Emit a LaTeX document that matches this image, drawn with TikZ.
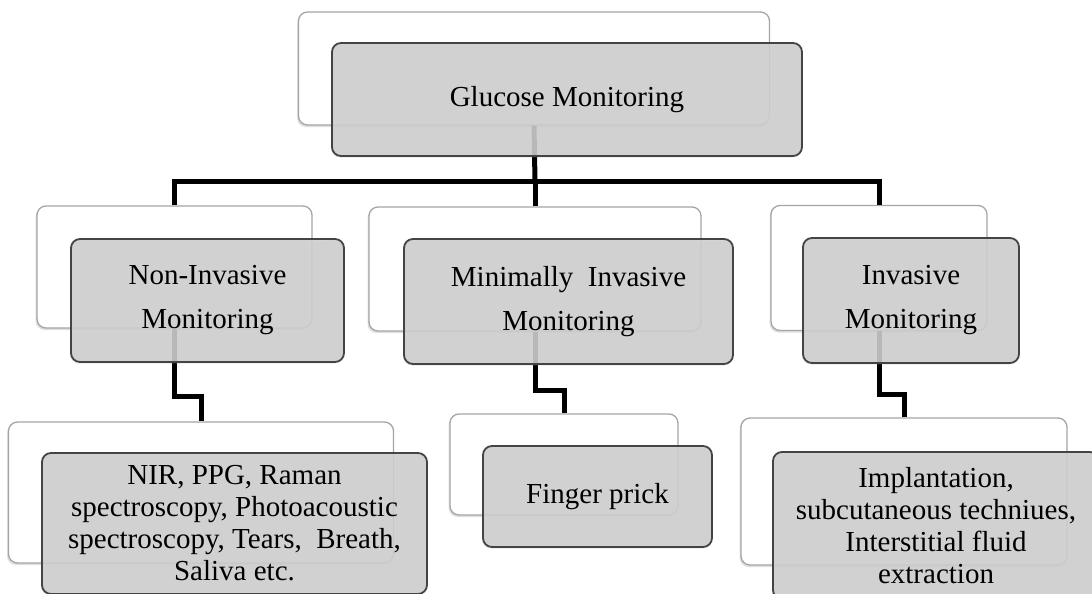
\documentclass[tikz,border=0pt]{standalone}
\usepackage{fontspec}
\setmainfont{Liberation Serif}
\usetikzlibrary{shadows}

\definecolor{boxgray}{RGB}{207,207,207}
\definecolor{edgedark}{RGB}{68,68,68}
\definecolor{edgelight}{RGB}{165,165,165}

\begin{document}
\begin{tikzpicture}[
                x = 1pt,
                y = -1pt,
                back/.style = {
                    draw = edgelight,
                    fill = white,
                    line width = 1.3pt,
                    rounded corners = 9pt,
                    inner sep = 0pt,
                    drop shadow = {shadow xshift=-1.5pt, shadow yshift=-2pt, opacity=0.25}
                },
                front/.style = {
                    draw = edgedark,
                    fill = boxgray,
                    fill opacity = 0.88,
                    text opacity = 1,
                    line width = 1.8pt,
                    rounded corners = 9pt,
                    inner sep = 0pt,
                    align = center,
                    font = \fontsize{29}{44}\selectfont,
                    drop shadow = {shadow xshift=-1pt, shadow yshift=-1.5pt, opacity=0.2}
                },
                leaf/.style = {
                    front,
                    font = \fontsize{29}{32}\selectfont
                },
                link/.style = {
                    line width = 5pt,
                    black
                }
            ]
            \useasboundingbox (0,0) rectangle (1092,594);
            \clip (0,0) rectangle (1092,594);
            % 
            \node[back, minimum width=471pt, minimum height=113pt] (b1) at (534,68.5) {};
            % 
            \node[back, minimum width=275pt, minimum height=122pt] (b2) at (174.5,267) {};
            \node[back, minimum width=332pt, minimum height=124pt] (b3) at (535,269) {};
            \node[back, minimum width=216pt, minimum height=125pt] (b4) at (879,268) {};
            % 
            \node[back, minimum width=385pt, minimum height=141pt] (b5) at (201,492.5) {};
            \node[back, minimum width=228pt, minimum height=101pt] (b6) at (564,464.5) {};
            \node[back, minimum width=326pt, minimum height=147pt] (b7) at (904,491.5) {};
            % 
            \coordinate (t1) at (535,181);
            \coordinate (e2) at (0,396);
            \coordinate (e3) at (0,390);
            \coordinate (e4) at (0,394);
            % 
            \draw[link] (b1.south) -- (t1);
            \draw[link] (b2.north) |- (t1) -| (b4.north);
            \draw[link] (t1) -- (b3.north);
            % 
            \draw[link] (b2.south) -- (b2.south |- e2) -| (b5.north);
            \draw[link] (b3.south) -- (b3.south |- e3) -| (b6.north);
            \draw[link] (b4.south) -- (b4.south |- e4) -| (b7.north);
            % 
            \node[front, minimum width=470pt, minimum height=113pt] (1) at (567,99.5) {Glucose Monitoring};
            % 
            \node[front, minimum width=273pt, minimum height=123pt] (2) at (207.5,300.5) {Non-Invasive\\Monitoring};
            \node[front, minimum width=329pt, minimum height=125pt] (3) at (568.5,301.5) {Minimally\ \ Invasive\\Monitoring};
            \node[front, minimum width=216pt, minimum height=125pt] (4) at (911,300.5) {Invasive\\Monitoring};
            % 
            \node[leaf, minimum width=385pt, minimum height=141pt] (5) at (234.5,523.5) {NIR, PPG, Raman\\spectroscopy, Photoacoustic\\spectroscopy, Tears,\ \ Breath,\\Saliva etc.};
            \node[leaf, minimum width=229pt, minimum height=101pt] (6) at (597.5,496.5) {Finger prick};
            \node[leaf, minimum width=326pt, minimum height=147pt] (7) at (936,525.5) {Implantation,\\subcutaneous techniues,\\Interstitial fluid\\extraction};
            % 
        \end{tikzpicture}
\end{document}
